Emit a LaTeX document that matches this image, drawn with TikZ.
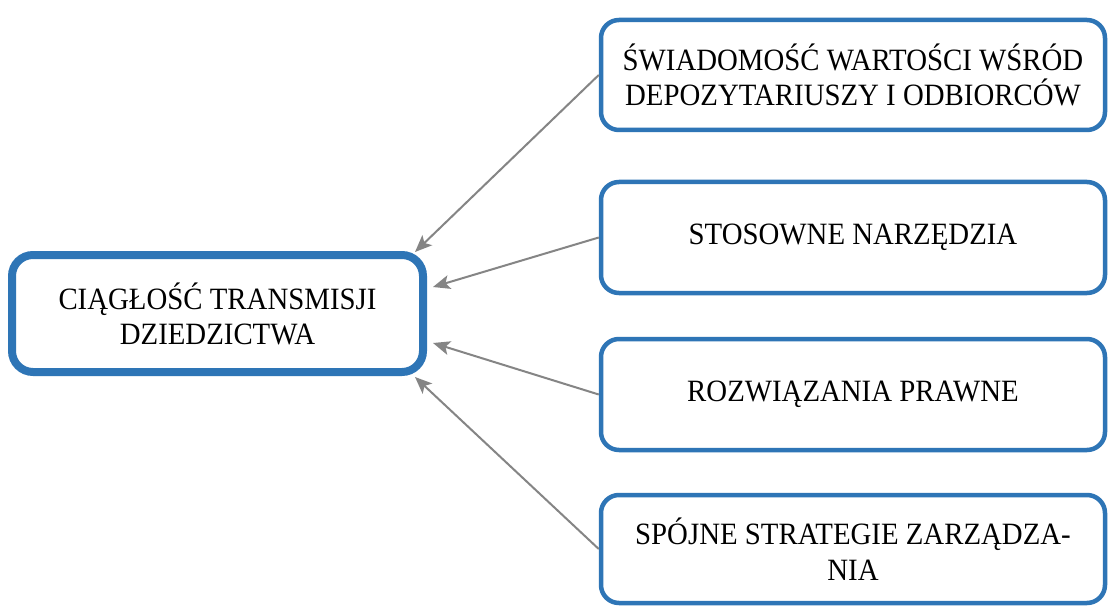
\documentclass[tikz,border=0pt]{standalone}
\usepackage{fontspec}
\setmainfont[FakeStretch=0.93]{Liberation Serif}
\usetikzlibrary{arrows.meta}
\definecolor{boxblue}{HTML}{2E75B6}
\definecolor{arrgray}{HTML}{858585}
\tikzset{
  srcbox/.style={draw=boxblue, line width=4.5pt, rounded corners=18pt, fill=white,
    minimum width=504pt, minimum height=110pt, align=center, inner sep=0pt,
    font=\fontsize{31}{35.5}\selectfont},
  mainbox/.style={draw=boxblue, line width=8pt, rounded corners=21pt, fill=white,
    minimum width=411pt, minimum height=117pt, align=center, inner sep=0pt,
    font=\fontsize{31}{35}\selectfont},
  link/.style={draw=arrgray, line width=2pt, -{Stealth[length=17pt,width=14pt,inset=4pt]}}
}
\begin{document}
\begin{tikzpicture}[x=1pt,y=-1pt]
\useasboundingbox (0,0) rectangle (1109,607);
\fill[white] (0,0) rectangle (1109,607);
\node[mainbox] (L) at (217.5,313.5) {CIĄGŁOŚĆ TRANSMISJI\\DZIEDZICTWA};
\node[srcbox] (b1) at (853,75) {ŚWIADOMOŚĆ WARTOŚCI WŚRÓD\\DEPOZYTARIUSZY I ODBIORCÓW};
\node[srcbox, minimum height=111pt] (b2) at (853,237.5) {STOSOWNE NARZĘDZIA};
\node[srcbox, minimum height=111pt] (b3) at (853,394.5) {ROZWIĄZANIA PRAWNE};
\node[srcbox, minimum height=108pt] (b4) at (853,549) {SPÓJNE STRATEGIE ZARZĄDZA-\\NIA};
\coordinate (t1) at (415,252);
\coordinate (t2) at (433,287);
\coordinate (t3) at (433,343);
\coordinate (t4) at (415,377);
\draw[link] (b1.west) -- (t1);
\draw[link] (b2.west) -- (t2);
\draw[link] (b3.west) -- (t3);
\draw[link] (b4.west) -- (t4);
\end{tikzpicture}
\end{document}
